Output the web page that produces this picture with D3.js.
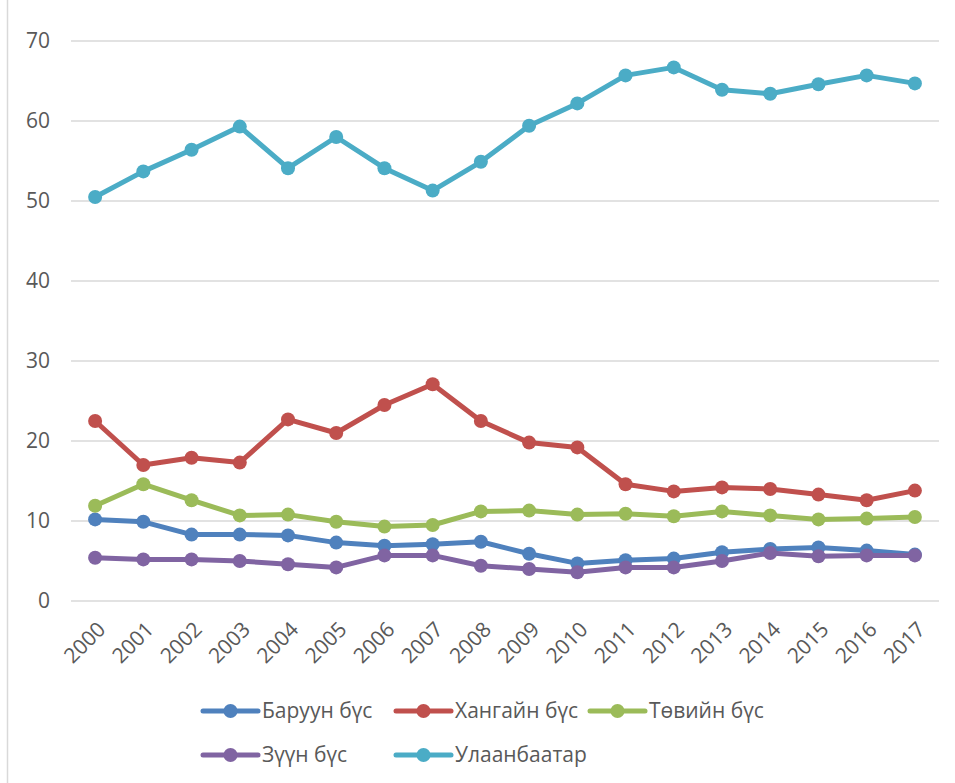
<!DOCTYPE html>
<html>
<head>
<meta charset="utf-8">
<script src="https://cdn.jsdelivr.net/npm/d3@7"></script>
<style>
  body { margin: 0; background: #fff; }
  text { font-family: "Open Sans", "Liberation Sans", sans-serif; fill: #595959; }
</style>
</head>
<body>
<div id="main"></div>
<script>
const ctx = {
    w: 955,
    h: 783,
    left: 71,
    right: 939,
    top: 41,
    bottom: 601,
};

const years = ["2000","2001","2002","2003","2004","2005","2006","2007","2008",
               "2009","2010","2011","2012","2013","2014","2015","2016","2017"];
const yTicks = [0, 10, 20, 30, 40, 50, 60, 70];

const seriesNames = ["Баруун бүс", "Хангайн бүс", "Төвийн бүс", "Зүүн бүс", "Улаанбаатар"];
const seriesColors = ["#4F81BD", "#C0504D", "#9BBB59", "#8064A2", "#4BACC6"];

const baruun = [10.2, 9.9, 8.3, 8.3, 8.2, 7.3, 6.9, 7.1, 7.4, 5.9, 4.7, 5.1, 5.3, 6.1, 6.5, 6.7, 6.3, 5.8];
const khangai = [22.5, 17.0, 17.9, 17.3, 22.7, 21.0, 24.5, 27.1, 22.5, 19.8, 19.2, 14.6, 13.7, 14.2, 14.0, 13.3, 12.6, 13.8];
const tuviin = [11.9, 14.6, 12.6, 10.7, 10.8, 9.9, 9.3, 9.5, 11.2, 11.3, 10.8, 10.9, 10.6, 11.2, 10.7, 10.2, 10.3, 10.5];
const zuun = [5.4, 5.2, 5.2, 5.0, 4.6, 4.2, 5.7, 5.7, 4.4, 4.0, 3.6, 4.2, 4.2, 5.0, 6.0, 5.6, 5.7, 5.7];
const ulaanbaatar = [50.5, 53.7, 56.4, 59.3, 54.1, 58.0, 54.1, 51.3, 54.9, 59.4, 62.2, 65.7, 66.7, 63.9, 63.4, 64.6, 65.7, 64.7];

const seriesValues = [baruun, khangai, tuviin, zuun, ulaanbaatar];

function createChart(svg) {
    let x = d3.scaleBand().domain(years).range([ctx.left, ctx.right]);
    let y = d3.scaleLinear().domain([0, 70]).range([ctx.bottom, ctx.top]);
    let cx = d => x(d) + x.bandwidth() / 2;

    // chart frame edge on the left
    svg.append("line")
       .attr("x1", 7.5).attr("x2", 7.5)
       .attr("y1", 0).attr("y2", ctx.h)
       .style("stroke", "#d9d9d9")
       .style("stroke-width", 1.5);

    // gridlines
    svg.append("g")
       .selectAll("line")
       .data(yTicks)
       .enter().append("line")
       .attr("x1", ctx.left).attr("x2", ctx.right)
       .attr("y1", d => y(d)).attr("y2", d => y(d))
       .style("stroke", "#d9d9d9")
       .style("stroke-width", 1.5);

    // y axis labels
    let yAxis = svg.append("g")
       .attr("transform", `translate(${ctx.left - 21},0)`)
       .call(d3.axisLeft(y).tickValues(yTicks).tickSize(0).tickPadding(0));
    yAxis.select(".domain").remove();
    yAxis.selectAll("text")
         .style("font-size", "21px")
         .style("fill", "#595959");

    // x axis labels, rotated
    let xAxis = svg.append("g")
       .attr("transform", `translate(0,${ctx.bottom})`)
       .call(d3.axisBottom(x).tickSize(0).tickPadding(0));
    xAxis.select(".domain").remove();
    xAxis.selectAll("text")
         .style("font-size", "21px")
         .style("fill", "#595959")
         .attr("text-anchor", "end")
         .attr("dy", null)
         .attr("y", 0)
         .attr("transform", "translate(6,24) rotate(-45)")
         .attr("dominant-baseline", "central");

    let line = d3.line().x((d, i) => cx(years[i])).y(d => y(d));

    seriesValues.forEach((vals, si) => {
        let g = svg.append("g");
        g.append("path")
         .datum(vals)
         .attr("d", line)
         .style("fill", "none")
         .style("stroke", seriesColors[si])
         .style("stroke-width", 5)
         .style("stroke-linejoin", "round");
        g.selectAll("circle")
         .data(vals)
         .enter().append("circle")
         .attr("cx", (d, i) => cx(years[i]))
         .attr("cy", d => y(d))
         .attr("r", 7)
         .style("fill", seriesColors[si]);
    });

    // legend
    let legendPos = [[203, 711], [396, 711], [590, 711], [203, 755], [396, 755]];
    let legend = svg.append("g")
       .selectAll("g")
       .data(seriesNames)
       .enter().append("g")
       .attr("transform", (d, i) => `translate(${legendPos[i][0]},${legendPos[i][1]})`);
    legend.append("line")
          .attr("x1", 0).attr("x2", 55)
          .style("stroke", (d, i) => seriesColors[i])
          .style("stroke-width", 5)
          .style("stroke-linecap", "round");
    legend.append("circle")
          .attr("cx", 27.5)
          .attr("r", 7)
          .style("fill", (d, i) => seriesColors[i]);
    legend.append("text")
          .attr("x", 59)
          .attr("dy", "0.35em")
          .style("font-size", "21px")
          .text(d => d);
}

function createViz() {
    let svgEl = d3.select("#main").append("svg");
    svgEl.attr("width", ctx.w);
    svgEl.attr("height", ctx.h);
    createChart(svgEl);
}

createViz();
</script>
</body>
</html>
